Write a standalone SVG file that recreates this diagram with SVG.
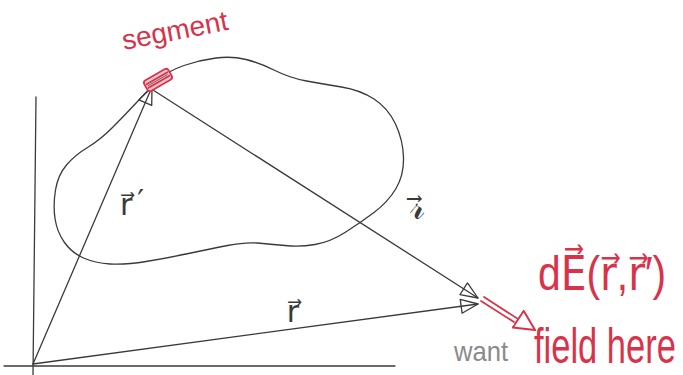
<svg xmlns="http://www.w3.org/2000/svg" width="683" height="375" viewBox="0 0 683 375">
<style>
.ink{fill:none;stroke:#3a3a3a;stroke-width:1.3;stroke-linecap:round;stroke-linejoin:round}
.red{fill:none;stroke:#d8334a;stroke-width:1.8;stroke-linecap:round;stroke-linejoin:round}
.lbl{font-family:"DejaVu Sans","Liberation Sans",sans-serif;fill:#3a3a3a}
.rtxt{font-family:"Liberation Sans","DejaVu Sans",sans-serif;fill:#d8334a}
.gtxt{font-family:"Liberation Sans","DejaVu Sans",sans-serif;fill:#8a8a8a}
</style>
<defs>
<marker id="openHead" markerWidth="20" markerHeight="16" refX="18" refY="8" orient="auto" markerUnits="userSpaceOnUse">
<path d="M1,1 L18,8 L1,15 Z" fill="none" stroke="#3a3a3a" stroke-width="1.3" stroke-linejoin="round"/>
</marker>
<marker id="redHead" markerWidth="24" markerHeight="24" refX="21" refY="11" orient="auto" markerUnits="userSpaceOnUse">
<path d="M1,1 L21,11 L1,21 Z" fill="#fff" stroke="#d8334a" stroke-width="2" stroke-linejoin="round"/>
</marker>
</defs>
<rect width="683" height="375" fill="#fff"/>

<g id="axes">
<path class="ink" d="M36,97 L33,375"/>
<path class="ink" d="M4,366 L395,366"/>
</g>

<g id="blob">
<path class="ink" d="M137.5,101.5 Q150,88 159,79.5 Q168,71 184,65.5 Q200,60 216,58 Q232,56 246,59.5 Q260,63 275,70.5 Q290,78 306.5,81 Q323,84 341.5,87 Q360,90 374,99 Q388,108 395.5,124 Q403,140 403.5,157.5 Q404,175 396,188.5 Q388,202 374,212.5 Q360,223 345,232.5 Q330,242 315,244.5 Q300,247 285,245.5 Q270,244 257.5,243 Q245,242 227.5,245.5 Q210,249 188.5,253.5 Q167,258 146,261.5 Q125,265 110,264 Q95,263 83.5,258 Q72,253 64.5,242.5 Q57,232 55,218.5 Q53,205 55.5,190 Q58,175 66.5,165 Q75,155 87.5,147.5 Q100,140 112.5,127.5 Q125,115 137.5,101.5 Z"/>
</g>

<g id="connectors">
<path id="r-prime" class="ink" d="M33,364 L152,87" marker-end="url(#openHead)"/>
<path id="r-sep" class="ink" d="M153,90 L478,298" marker-end="url(#openHead)"/>
<path id="r-vec" class="ink" d="M33,364 L478,304" marker-end="url(#openHead)"/>
<path id="dE" class="red" d="M484,297 L535,330" marker-end="url(#redHead)"/>
<path class="red" d="M481,301 L514,322"/>
</g>

<g id="segment" transform="translate(158,80) rotate(-30)">
<rect x="-14" y="-6" width="28" height="12" rx="3" fill="#f4c4cc" stroke="#d8334a" stroke-width="1.8"/>
<path class="red" d="M-12,-2 L12,-2 M-12,2 L12,2"/>
<path d="M-12,0 L11,0" stroke="#555" stroke-width="0.8"/>
</g>

<g id="labels">
<text class="rtxt" x="124" y="50" font-size="28" transform="rotate(-11 124 50)">segment</text>
<text class="lbl" x="120" y="215" font-size="30">r⃗<tspan dx="5" dy="-4">′</tspan></text>
<text class="lbl" x="417" y="219" font-size="36" text-anchor="middle">𝓇⃗</text>
<text class="lbl" x="293" y="322" font-size="30" text-anchor="middle">r⃗</text>
<text class="rtxt" font-size="48" transform="translate(538,290) scale(0.85,1)">dE⃗(r⃗,r⃗′)</text>
<text class="gtxt" font-size="27" transform="translate(454,361) scale(0.95,1)">want</text>
<text class="rtxt" font-size="50" transform="translate(534,363) scale(0.69,1)">field here</text>
</g>
</svg>
